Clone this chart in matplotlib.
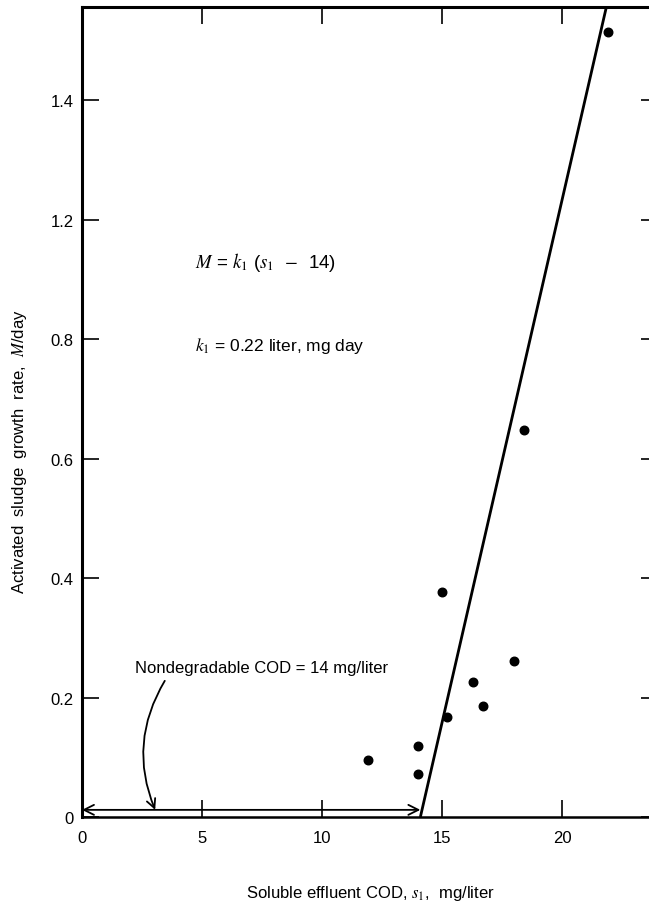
import matplotlib
matplotlib.use('Agg')
import matplotlib.pyplot as plt

plt.rcParams['font.family'] = ['Liberation Sans', 'DejaVu Sans']
plt.rcParams['mathtext.fontset'] = 'stix'

# Data points (soluble effluent COD, growth rate)
cod = [11.9, 14.0, 14.0, 15.0, 15.2, 16.3, 16.7, 18.0, 18.4, 21.9]
growth = [0.095, 0.119, 0.072, 0.377, 0.167, 0.226, 0.186, 0.261, 0.648, 1.314]

# Fitted line endpoints
line_x = [14.1, 21.85]
line_y = [0.0, 1.356]

# Axis ticks
x_ticks = [0, 5, 10, 15, 20]
x_labels = ['0', '5', '10', '15', '20']
y_ticks = [0, 0.2, 0.4, 0.6, 0.8, 1.0, 1.2]
y_labels = ['0', '0.2', '0.4', '0.6', '0.8', '1.2', '1.4']

fig = plt.figure(figsize=(6.49, 9.04), dpi=100)
ax = fig.add_axes([0.1263, 0.0951, 0.8875, 0.896])

ax.plot(line_x, line_y, color='black', lw=2.0, solid_capstyle='butt')
ax.scatter(cod, growth, s=38, color='black', zorder=3)

ax.set_xlim(0, 24)
ax.set_ylim(0, 1.356)

ax.set_xticks(x_ticks)
ax.set_xticklabels(x_labels)
ax.set_yticks(y_ticks)
ax.set_yticklabels(y_labels)
ax.tick_params(direction='in', length=12, width=1.2, labelsize=12,
               top=True, right=True)
ax.tick_params(axis='x', pad=9)
ax.tick_params(axis='y', pad=6)

for sp in ['left', 'top']:
    ax.spines[sp].set_linewidth(2.2)
ax.spines['bottom'].set_linewidth(1.8)
ax.spines['right'].set_visible(False)

# double arrow for nondegradable COD
ax.annotate('', xy=(0, 0.012), xytext=(14.1, 0.012),
            arrowprops=dict(arrowstyle='<->', color='black', lw=1.3,
                            mutation_scale=18, shrinkA=0, shrinkB=0))
ax.text(2.2, 0.25, 'Nondegradable COD = 14 mg/liter', fontsize=12,
        va='center', ha='left')
ax.annotate('', xy=(3.05, 0.012), xytext=(3.45, 0.228),
            arrowprops=dict(arrowstyle='->', color='black', lw=1.3,
                            mutation_scale=16, shrinkA=0, shrinkB=0,
                            connectionstyle='arc3,rad=0.25'))

ax.text(4.7, 0.93, r'$M$ = $k_1$ ($s_1$  $-$  14)', fontsize=13.5,
        va='center', ha='left')
ax.text(4.7, 0.79, r'$k_1$ = 0.22 liter, mg day', fontsize=12.5,
        va='center', ha='left')

ax.set_xlabel(r'Soluble effluent COD, $s_1$,  mg/liter', fontsize=12,
              labelpad=28)
fig.text(0.03, 0.5, r'Activated  sludge  growth  rate,  $M$/day',
         rotation=90, va='center', ha='center', fontsize=12)

fig.savefig('out.png', dpi=100)
